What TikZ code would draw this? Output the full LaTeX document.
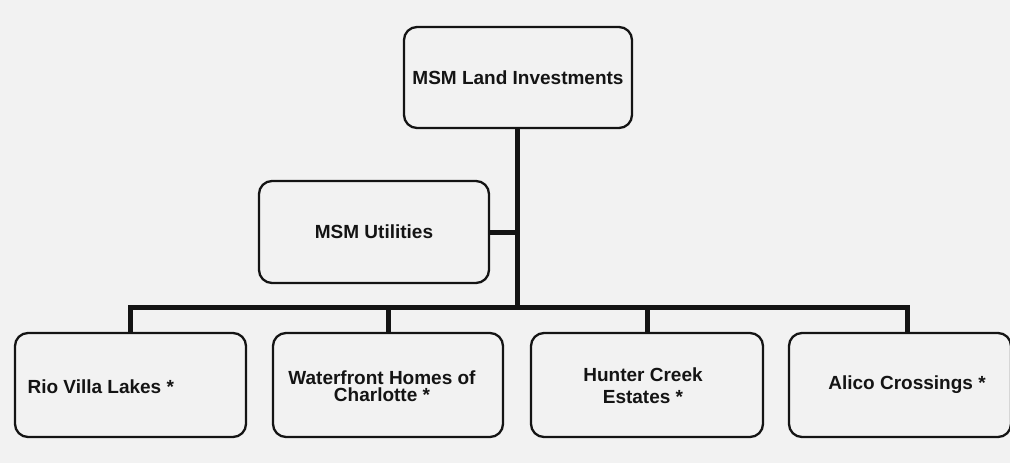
\documentclass[tikz,border=0pt]{standalone}
\usepackage{fontspec}
\setmainfont{Liberation Sans}
\definecolor{paper}{gray}{0.95}
\definecolor{ink}{gray}{0.08}
\begin{document}
\begin{tikzpicture}[x=1pt,y=-1pt,
  orgbox/.style={draw=ink, line width=2.3pt, rounded corners=13pt, fill=paper, inner sep=0pt},
  label/.style={font=\fontsize{19}{17}\selectfont\bfseries, text=ink, align=center},
  wire/.style={draw=ink, line width=5pt}]
\fill[paper] (0,0) rectangle (1010,463);
\useasboundingbox (0,0) rectangle (1010,463);
% boxes
\node[orgbox, minimum width=228pt, minimum height=101pt] (top) at (518,77.5) {};
\node[orgbox, minimum width=230pt, minimum height=102pt] (util) at (374,232) {};
\node[orgbox, minimum width=231pt, minimum height=104pt] (rio) at (130.5,385) {};
\node[orgbox, minimum width=230pt, minimum height=104pt] (water) at (388,385) {};
\node[orgbox, minimum width=232pt, minimum height=104pt] (hunter) at (647,385) {};
\node[orgbox, minimum width=222pt, minimum height=104pt] (alico) at (900,385) {};
% labels
\node[label] (ttop) at (top) {MSM Land Investments};
\node[label] (tutil) at (util) {MSM Utilities};
\node[label, anchor=west] (trio) at (24,387) {Rio Villa Lakes *};
\node[label] (twater) at (382,386) {Waterfront Homes of\\Charlotte *};
\node[label, font=\fontsize{19}{22}\selectfont\bfseries] (thunter) at (643,386) {Hunter Creek\\Estates *};
\node[label] (talico) at (907,385) {Alico Crossings *};
% connectors
\coordinate (bus) at (517,307);
\coordinate (junc) at (517,232);
\coordinate (busL) at (130,307);
\coordinate (busR) at (907,307);
\coordinate (dropA) at (907,332);
\draw[wire] (top.south -| bus) -- (bus);
\draw[wire] (util.east) -- (junc);
\draw[wire, line cap=rect] (busL) -- (busR);
\draw[wire] (busL) -- (rio.north -| busL);
\draw[wire] (water.north |- bus) -- (water.north);
\draw[wire] (hunter.north |- bus) -- (hunter.north);
\draw[wire] (busR) -- (dropA);
\end{tikzpicture}
\end{document}
